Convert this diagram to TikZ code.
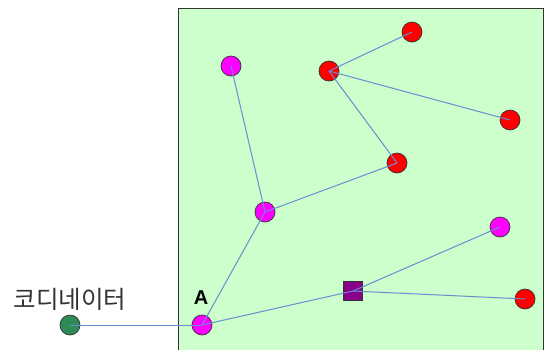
\documentclass[tikz,border=0pt]{standalone}
\usepackage{fontspec}
\setmainfont{Liberation Sans}
\newfontfamily\krfont{Noto Sans CJK KR}
\definecolor{areafill}{HTML}{CCFFCC}
\definecolor{edgeblue}{HTML}{6A8CD2}
\definecolor{coordgreen}{HTML}{2E8B57}
\definecolor{sqpurple}{HTML}{8B008B}
\definecolor{pmag}{HTML}{FF00FF}
\definecolor{pred}{HTML}{FF0000}
\tikzset{
  dot/.style={circle,draw=black!80,line width=0.7pt,minimum size=20pt,inner sep=0pt},
  reddot/.style={dot,fill=pred},
  magdot/.style={dot,fill=pmag},
  coorddot/.style={dot,fill=coordgreen},
  sqnode/.style={rectangle,draw=black!80,line width=0.7pt,fill=sqpurple,minimum size=19pt,inner sep=0pt},
  link/.style={draw=edgeblue,line width=1pt}
}
\begin{document}
\begin{tikzpicture}[x=1pt,y=-1pt]
\useasboundingbox (0,0) rectangle (549,349);
\draw[fill=areafill,draw=black!80,line width=1pt] (178,8) rectangle (543.5,352);
\node[coorddot] (c) at (70,325) {};
\node[magdot] (a) at (202,325) {};
\node[magdot] (m1) at (265,212) {};
\node[magdot] (m2) at (231,66) {};
\node[magdot] (m3) at (500,227) {};
\node[reddot] (r1) at (329,71) {};
\node[reddot] (r2) at (412,32) {};
\node[reddot] (r3) at (510,120) {};
\node[reddot] (r4) at (397,163) {};
\node[reddot] (r5) at (525,299) {};
\node[sqnode] (s) at (353,291) {};
\node[font=\krfont\fontsize{24.5}{26}\selectfont,text=black!80] (ct) at (70,299) {코디네이터};
\node[font=\bfseries\fontsize{20}{22}\selectfont] (al) at (201,298) {A};
\draw[link] (c.center) -- (a.center);
\draw[link] (a.center) -- (m1.center);
\draw[link] (m1.center) -- (m2.center);
\draw[link] (m1.center) -- (r4.center);
\draw[link] (r4.center) -- (r1.center);
\draw[link] (r1.center) -- (r2.center);
\draw[link] (r1.center) -- (r3.center);
\draw[link] (a.center) -- (s.center);
\draw[link] (s.center) -- (m3.center);
\draw[link] (s.center) -- (r5.center);
\end{tikzpicture}
\end{document}
